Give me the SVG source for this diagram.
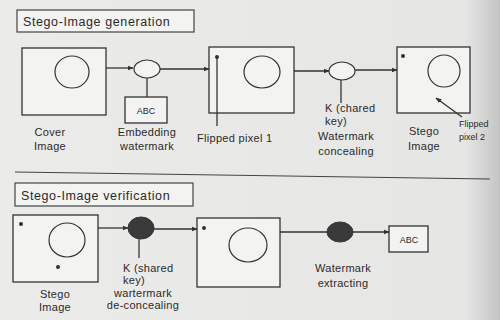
<svg xmlns="http://www.w3.org/2000/svg" width="500" height="320" viewBox="0 0 500 320">
<defs>
<linearGradient id="bg" x1="0" y1="0" x2="1" y2="0">
<stop offset="0" stop-color="#ebebea"/>
<stop offset="0.93" stop-color="#e6e6e5"/>
<stop offset="1" stop-color="#c4c4c4"/>
</linearGradient>
<marker id="ah" viewBox="0 0 10 10" refX="9" refY="5" markerWidth="6" markerHeight="6" orient="auto" markerUnits="userSpaceOnUse">
<path d="M0,1 L10,5 L0,9 z" fill="#333"/>
</marker>
</defs>
<style>
.box{fill:#f3f3f2;stroke:#333;stroke-width:1.3}
.tbox{fill:#f3f3f2;stroke:#444;stroke-width:1.2}
.c{fill:none;stroke:#333;stroke-width:1.2}
.e{fill:#f3f3f2;stroke:#333;stroke-width:1.2}
.f{fill:#3a3a3a;stroke:#333;stroke-width:1}
.ln{stroke:#333;stroke-width:1.3;fill:none}
.dot{fill:#333}
text{font-family:"Liberation Sans",Arial,sans-serif;fill:#2a2a2a;font-size:11px;letter-spacing:0.3px}
.t{font-size:12.5px;letter-spacing:0.6px}
.m{text-anchor:middle}
.s{font-size:9px;letter-spacing:0}
</style>
<rect width="500" height="320" fill="url(#bg)"/>

<g id="title-gen"><rect class="tbox" x="17" y="10" width="177" height="22"/><text class="t" x="23" y="26">Stego-Image  generation</text></g>
<g id="cover"><rect class="box" x="22" y="48" width="84" height="67"/><ellipse class="c" cx="72" cy="72" rx="17" ry="16"/><text class="m" x="50" y="136">Cover</text><text class="m" x="50" y="150">Image</text></g>
<g id="embed"><ellipse class="e" cx="147" cy="69" rx="13" ry="9"/><text class="m" x="147" y="136">Embedding</text><text class="m" x="147" y="150">watermark</text></g>
<g id="abc1"><rect class="box" x="125" y="97" width="42" height="26"/><text class="m s" x="146" y="114">ABC</text></g>
<g id="flipped"><rect class="box" x="209" y="47" width="85" height="66"/><ellipse class="c" cx="262" cy="72" rx="18" ry="16"/><circle class="dot" cx="217" cy="57" r="2"/><line class="ln" x1="217" y1="57" x2="217" y2="126"/><text x="197" y="142">Flipped  pixel  1</text></g>
<g id="conceal"><ellipse class="e" cx="342" cy="71" rx="13" ry="9"/><text x="325" y="112">K  (chared</text><text x="325" y="125">key)</text><text class="m" x="346" y="140">Watermark</text><text class="m" x="346" y="155">concealing</text></g>
<g id="stego1"><rect class="box" x="397" y="47" width="73" height="66"/><circle class="dot" cx="403" cy="56" r="2"/><ellipse class="c" cx="444" cy="71" rx="16" ry="16"/><text class="m" x="424" y="135">Stego</text><text class="m" x="424" y="150">Image</text><text class="s" x="459" y="127">Flipped</text><text class="s" x="459" y="140">pixel 2</text></g>

<line x1="15" y1="172" x2="490" y2="179" stroke="#444" stroke-width="1.2"/>

<g id="title-ver"><rect class="tbox" x="15" y="183" width="178" height="23"/><text class="t" x="21" y="200">Stego-Image  verification</text></g>
<g id="stego2"><rect class="box" x="13" y="215" width="85" height="67"/><circle class="dot" cx="21" cy="224" r="2"/><ellipse class="c" cx="67" cy="240" rx="18" ry="17"/><circle class="dot" cx="58" cy="267" r="2"/><text class="m" x="55" y="298">Stego</text><text class="m" x="55" y="311">Image</text></g>
<g id="deconceal"><ellipse class="f" cx="141" cy="228" rx="13" ry="11"/><text x="123" y="272">K  (shared</text><text x="123" y="284">key)</text><text class="m" x="143" y="297">wartermark</text><text class="m" x="143" y="309">de-concealing</text></g>
<g id="recovered"><rect class="box" x="197" y="218" width="83" height="69"/><circle class="dot" cx="204" cy="228" r="2"/><ellipse class="c" cx="248" cy="245" rx="19" ry="17"/></g>
<g id="extract"><ellipse class="f" cx="340" cy="232" rx="13" ry="10"/><text class="m" x="343" y="272">Watermark</text><text class="m" x="343" y="287">extracting</text></g>
<g id="abc2"><rect class="box" x="389" y="226" width="39" height="26"/><text class="m s" x="409" y="243">ABC</text></g>

<g id="connectors">
<line class="ln" x1="106" y1="68" x2="133" y2="68" marker-end="url(#ah)"/>
<line class="ln" x1="147" y1="78" x2="147" y2="97"/>
<line class="ln" x1="160" y1="69" x2="209" y2="69" marker-end="url(#ah)"/>
<line class="ln" x1="294" y1="71" x2="329" y2="71" marker-end="url(#ah)"/>
<line class="ln" x1="341" y1="80" x2="341" y2="103"/>
<line class="ln" x1="355" y1="70" x2="397" y2="70" marker-end="url(#ah)"/>
<line class="ln" x1="462" y1="117" x2="436" y2="98" marker-end="url(#ah)"/>
<line class="ln" x1="98" y1="228" x2="128" y2="228" marker-end="url(#ah)"/>
<line class="ln" x1="139" y1="239" x2="139" y2="258"/>
<line class="ln" x1="154" y1="229" x2="197" y2="229" marker-end="url(#ah)"/>
<line class="ln" x1="280" y1="232" x2="327" y2="232"/>
<line class="ln" x1="353" y1="232" x2="389" y2="232" marker-end="url(#ah)"/>
</g>
</svg>
